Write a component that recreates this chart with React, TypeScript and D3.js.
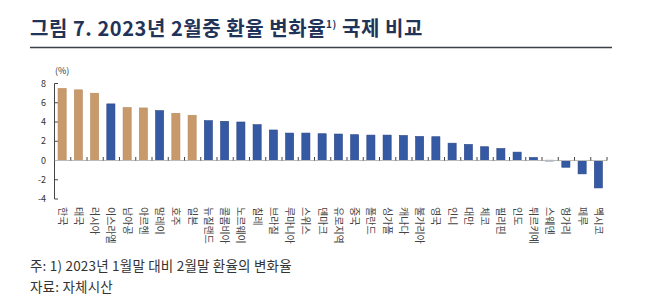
import React from "react";
import * as d3 from "d3";

const categories = ["한국","태국","러시아","이스라엘","남아공","아르헨","말레이","호주","일본","뉴질랜드","콜롬비아","노르웨이","칠레","브라질","루마니아","스위스","덴마크","유로지역","중국","폴란드","싱가폴","캐나다","불가리아","영국","인니","대만","체코","필리핀","인도","튀르키예","스웨덴","헝가리","페루","멕시코"];
const values = [7.48,7.34,6.99,5.88,5.5,5.46,5.18,4.9,4.7,4.14,4.07,4.0,3.72,3.17,2.85,2.85,2.78,2.75,2.68,2.64,2.64,2.6,2.5,2.47,1.8,1.67,1.43,1.25,0.87,0.31,0.03,-0.7,-1.39,-2.85];
const highlighted = ["한국","태국","러시아","남아공","아르헨","호주","일본"];
const yTicks = [8,6,4,2,0,-2,-4];

const FONT = "'Noto Sans CJK KR', 'Noto Sans', sans-serif";

export default function App() {
  const W = 658, H = 307;
  const x = d3.scaleBand<string>().domain(categories).range([54, 606.5]).paddingInner(0.5).paddingOuter(0.25);
  const y = d3.scaleLinear().domain([-4, 8]).range([199, 83.5]);
  const step = x.step();
  return (
    <svg width={W} height={H} style={{ position: "absolute", left: 0, top: 0, background: "#fff" }} fontFamily={FONT}>
      <text x={30} y={36} fontSize={20} fontWeight={700} fill="#1f3458" letterSpacing={0.55}>
        그림 7. 2023년 2월중 환율 변화율<tspan fontSize={10} dy={-8}>1)</tspan><tspan dy={8}> 국제 비교</tspan>
      </text>
      <line x1={30} x2={612} y1={47.5} y2={47.5} stroke="#3b3f48" strokeWidth={1.5} />
      <text x={55} y={74} fontSize={9} fill="#333">(%)</text>
      {/* y axis */}
      <line x1={54.5} x2={54.5} y1={y(8)} y2={y(-4)} stroke="#444" strokeWidth={1} />
      {yTicks.map(t => (
        <g key={t}>
          <line x1={54.5} x2={58} y1={y(t)} y2={y(t)} stroke="#444" />
          <text x={46} y={y(t)} dy="0.35em" fontSize={9} textAnchor="end" fill="#333">{t}</text>
        </g>
      ))}
      {/* bars */}
      {categories.map((c, i) => {
        const v = values[i];
        const top = y(Math.max(0, v));
        const h = Math.abs(y(v) - y(0));
        const hl = highlighted.includes(c);
        return (
          <rect key={c} x={x(c)} y={top} width={x.bandwidth()} height={Math.max(h, 0.8)}
            fill={hl ? "#c8996a" : "#3559a3"} stroke={hl ? "#b88a5c" : "#2a4785"} strokeWidth={0.6} />
        );
      })}
      {/* zero line */}
      <line x1={54.5} x2={607} y1={y(0)} y2={y(0)} stroke="#bbb" strokeWidth={1} />
      {d3.range(categories.length + 1).map(i => {
        const xx = 54.5 + i * step;
        return <line key={i} x1={xx} x2={xx} y1={y(0) - 3.5} y2={y(0)} stroke="#444" strokeWidth={1} />;
      })}
      {/* category labels */}
      {categories.map(c => {
        const cx = (x(c) as number) + x.bandwidth() / 2;
        return (
          <text key={c} transform={`translate(${cx - 3.5},207) rotate(90)`} fontSize={10} fill="#444">{c}</text>
        );
      })}
      <text x={30} y={271} fontSize={13.5} fill="#333" letterSpacing={0.2}>주: 1) 2023년 1월말 대비 2월말 환율의 변화율</text>
      <text x={30} y={292} fontSize={13.5} fill="#333" letterSpacing={0.2}>자료: 자체시산</text>
    </svg>
  );
}
